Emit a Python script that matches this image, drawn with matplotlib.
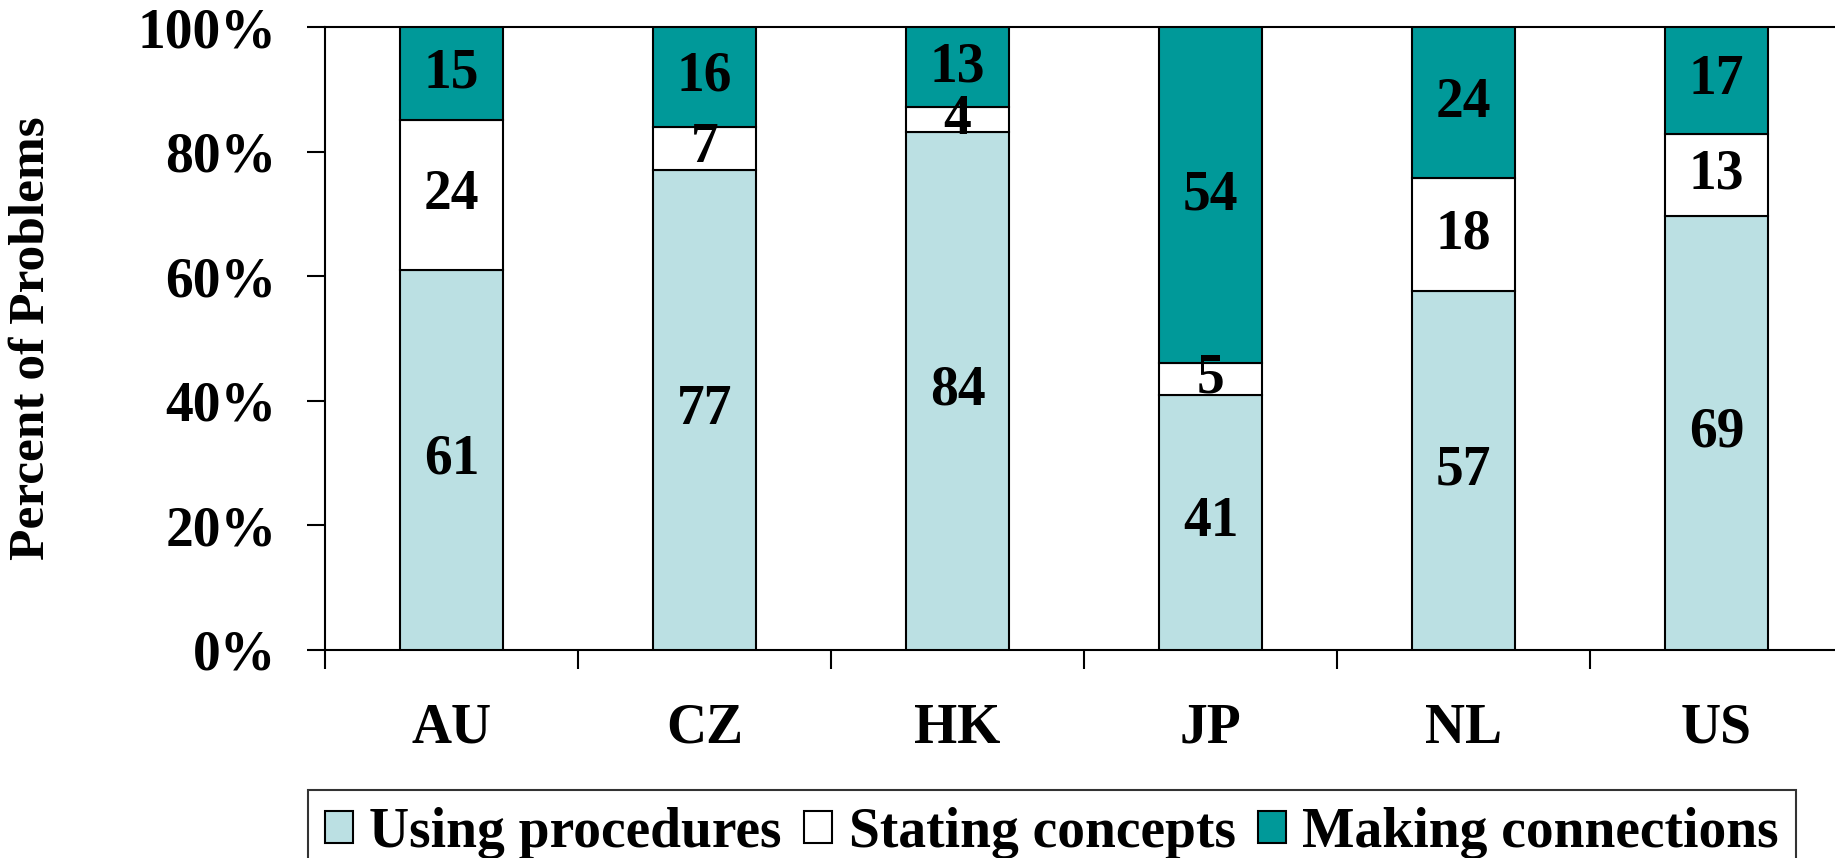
import numpy as np
import matplotlib.pyplot as plt
from matplotlib.ticker import FixedLocator, PercentFormatter

plt.rcParams['font.family'] = ['Liberation Serif', 'DejaVu Serif']
plt.rcParams['font.weight'] = 'bold'

# Dados: percentagem de problemas por tipo e por país
countries = ['AU', 'CZ', 'HK', 'JP', 'NL', 'US']
using_procedures = [61, 77, 84, 41, 57, 69]
stating_concepts = [24, 7, 4, 5, 18, 13]
making_connections = [15, 16, 13, 54, 24, 17]

series = [
    ('Using procedures', using_procedures, '#bbe0e3'),
    ('Stating concepts', stating_concepts, '#ffffff'),
    ('Making connections', making_connections, '#009999'),
]

# Barras empilhadas a 100%
totals = np.array(using_procedures) + np.array(stating_concepts) + np.array(making_connections)
x = np.arange(len(countries))

fig = plt.figure(figsize=(18.35, 8.58), dpi=100)
ax = fig.add_axes([325 / 1835, 1 - 650 / 858, 6 * 253 / 1835, (650 - 27) / 858])

bottom = np.zeros(len(countries))
for name, vals, color in series:
    frac = np.array(vals) / totals
    ax.bar(x, frac, 0.41, bottom=bottom, color=color, edgecolor='black',
           linewidth=1.5, label=name, zorder=3)
    for xi, b, f, v in zip(x, bottom, frac, vals):
        ax.text(xi, b + f / 2, str(v), ha='center', va='center',
                fontsize=40, fontweight='bold', zorder=4)
    bottom += frac

ax.set_xlim(-0.5, 5.5)
ax.set_ylim(0, 1)
ax.set_yticks(np.arange(0, 1.01, 0.2))
ax.yaxis.set_major_formatter(PercentFormatter(1.0, decimals=0))
ax.set_xticks(x)
ax.set_xticklabels(countries)
ax.xaxis.set_minor_locator(FixedLocator(np.arange(-0.5, 5.6, 1.0)))

ax.tick_params(axis='y', direction='out', length=13, width=1.5, pad=22, labelsize=40)
ax.tick_params(axis='x', which='major', length=0, pad=38, labelsize=40)
ax.tick_params(axis='x', which='minor', direction='out', length=14, width=1.5)

for side in ['left', 'top', 'bottom']:
    ax.spines[side].set_linewidth(1.5)
ax.spines['right'].set_visible(False)

ax.set_ylabel('Percent of Problems', fontsize=37, fontweight='bold')
ax.yaxis.set_label_coords(-0.178, 0.5)

leg = fig.legend(loc='upper center', bbox_to_anchor=(1052 / 1835, 1 - 790 / 858), ncol=3,
                 frameon=True, fancybox=False, edgecolor='black', fontsize=40,
                 handlelength=0.5, handleheight=0.5, handletextpad=0.3,
                 columnspacing=0.4, borderpad=0.3, borderaxespad=0)
leg.get_frame().set_linewidth(1.5)

plt.savefig('out.png', dpi=100)
